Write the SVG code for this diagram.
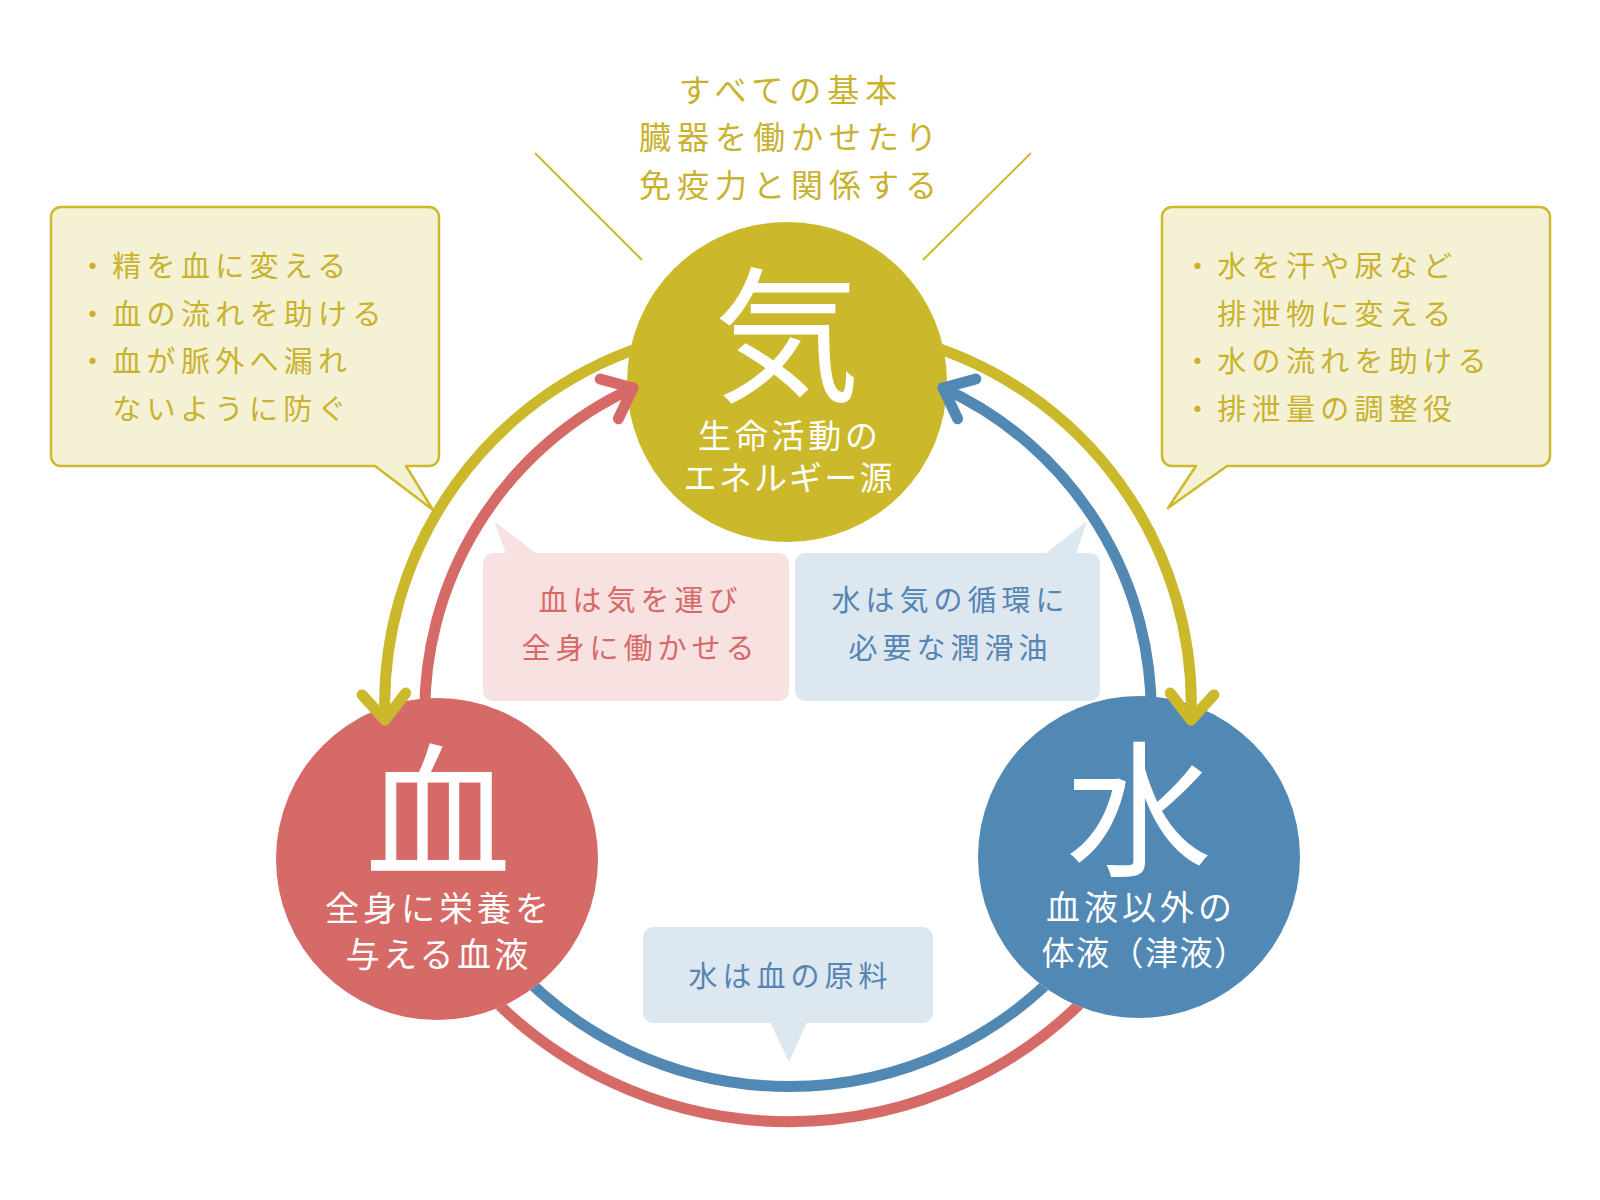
<svg xmlns="http://www.w3.org/2000/svg" width="1600" height="1200" viewBox="0 0 1600 1200">
<style>
  text { font-family: "Noto Sans CJK JP", "Noto Sans", sans-serif; }
  .gold-t { fill: #C8B22E; }
  .white-t { fill: #FFFFFF; }
  .red-t { fill: #D66A67; }
  .blue-t { fill: #5585B3; }
  .box { fill: #F5F1D5; stroke: #CDB92C; stroke-width: 2.5; stroke-linejoin: round; }
  .deco { stroke: #CDB92C; stroke-width: 2; fill: none; }
  .conn { fill: none; stroke-width: 11; stroke-linecap: round; stroke-linejoin: round; }
  .gold { stroke: #CBB92B; }
  .red { stroke: #D66A67; }
  .blue { stroke: #5288B4; }
</style>
<defs>
  <mask id="outsideNodes" maskUnits="userSpaceOnUse" x="0" y="0" width="1600" height="1200">
    <rect x="0" y="0" width="1600" height="1200" fill="#fff"/>
    <circle cx="437" cy="859" r="161" fill="#000"/>
    <circle cx="1139" cy="857" r="161" fill="#000"/>
  </mask>
</defs>
<rect x="0" y="0" width="1600" height="1200" fill="#FFFFFF"/>

<g id="top-note">
  <line class="deco" x1="535" y1="153" x2="642" y2="260"/>
  <line class="deco" x1="1031" y1="153" x2="923" y2="260"/>
  <text class="gold-t" font-size="32" letter-spacing="6" text-anchor="middle" x="791" y="102">すべての基本</text>
  <text class="gold-t" font-size="32" letter-spacing="6" text-anchor="middle" x="791" y="149">臓器を働かせたり</text>
  <text class="gold-t" font-size="32" letter-spacing="6" text-anchor="middle" x="791" y="197">免疫力と関係する</text>
</g>

<g id="note-left">
  <path class="box" d="M61 207 H429 A10 10 0 0 1 439 217 V456 A10 10 0 0 1 429 466 H406 L433 510 L375 466 H61 A10 10 0 0 1 51 456 V217 A10 10 0 0 1 61 207 Z"/>
  <text class="gold-t" font-size="29" letter-spacing="5.3" x="78" y="277">・精を血に変える</text>
  <text class="gold-t" font-size="29" letter-spacing="5.3" x="78" y="324.5">・血の流れを助ける</text>
  <text class="gold-t" font-size="29" letter-spacing="5.3" x="78" y="372">・血が脈外へ漏れ</text>
  <text class="gold-t" font-size="29" letter-spacing="5.3" x="112.3" y="419.5">ないように防ぐ</text>
</g>

<g id="note-right">
  <path class="box" d="M1172 207 H1540 A10 10 0 0 1 1550 217 V456 A10 10 0 0 1 1540 466 H1227 L1168 508 L1196 466 H1172 A10 10 0 0 1 1162 456 V217 A10 10 0 0 1 1172 207 Z"/>
  <text class="gold-t" font-size="29" letter-spacing="5.3" x="1183" y="277">・水を汗や尿など</text>
  <text class="gold-t" font-size="29" letter-spacing="5.3" x="1217.3" y="324.5">排泄物に変える</text>
  <text class="gold-t" font-size="29" letter-spacing="5.3" x="1183" y="372">・水の流れを助ける</text>
  <text class="gold-t" font-size="29" letter-spacing="5.3" x="1183" y="419.5">・排泄量の調整役</text>
</g>

<g id="bubble-blood-qi">
  <rect x="483" y="553" width="306" height="148" rx="10" fill="#F7E1E1"/>
  <polygon points="506,554 494,521 537,554" fill="#F7E1E1"/>
  <text class="red-t" font-size="29" letter-spacing="5" text-anchor="middle" x="640.5" y="611">血は気を運び</text>
  <text class="red-t" font-size="29" letter-spacing="5" text-anchor="middle" x="640.5" y="659">全身に働かせる</text>
</g>

<g id="bubble-water-qi">
  <rect x="795" y="553" width="305" height="148" rx="10" fill="#DDE7F0"/>
  <polygon points="1045,554 1087,521 1076,554" fill="#DDE7F0"/>
  <text class="blue-t" font-size="29" letter-spacing="5" text-anchor="middle" x="950.5" y="611">水は気の循環に</text>
  <text class="blue-t" font-size="29" letter-spacing="5" text-anchor="middle" x="950.5" y="659">必要な潤滑油</text>
</g>

<g id="bubble-water-blood">
  <rect x="643" y="927" width="290" height="96" rx="10" fill="#DDE7F0"/>
  <polygon points="770,1022 789,1062 807,1022" fill="#DDE7F0"/>
  <text class="blue-t" font-size="29" letter-spacing="5" text-anchor="middle" x="790.5" y="987">水は血の原料</text>
</g>

<g id="node-qi">
  <circle cx="787" cy="382" r="160" fill="#CBB92B"/>
  <text class="white-t" font-size="146" text-anchor="middle" x="787" y="390">気</text>
  <text class="white-t" font-size="33" letter-spacing="3.8" text-anchor="middle" x="789.9" y="447.5">生命活動の</text>
  <text class="white-t" font-size="33" letter-spacing="2.2" text-anchor="middle" x="789.1" y="490">エネルギー源</text>
</g>

<g id="node-blood">
  <circle cx="437" cy="859" r="161" fill="#D66A67"/>
  <text class="white-t" font-size="146" text-anchor="middle" x="438" y="866">血</text>
  <text class="white-t" font-size="34" letter-spacing="4" text-anchor="middle" x="439" y="921">全身に栄養を</text>
  <text class="white-t" font-size="34" letter-spacing="3.4" text-anchor="middle" x="438.7" y="967">与える血液</text>
</g>

<g id="node-water">
  <circle cx="1139" cy="857" r="161" fill="#5288B4"/>
  <text class="white-t" font-size="146" text-anchor="middle" x="1139" y="864">水</text>
  <text class="white-t" font-size="34" letter-spacing="4" text-anchor="middle" x="1141" y="919.5">血液以外の</text>
  <text class="white-t" font-size="33" letter-spacing="1.5" text-anchor="middle" x="1145" y="965">体液（津液）</text>
</g>

<g id="connectors">
  <g mask="url(#outsideNodes)">
    <path class="conn blue" d="M510 962 A375 375 0 0 0 1068 962"/>
    <path class="conn red" d="M478 983 A418 418 0 0 0 1100 983"/>
  </g>
  <path class="conn gold" d="M658 342 A377 377 0 0 0 385 720"/>
  <polyline class="conn gold" points="362.1,694.9 385,720 405.7,693.1"/>
  <path class="conn gold" d="M918 342 A377 377 0 0 1 1191 720"/>
  <polyline class="conn gold" points="1213.9,694.9 1191,720 1170.3,693.1"/>
  <path class="conn red" d="M425 726 A357 357 0 0 1 633 388"/>
  <polyline class="conn red" points="600.2,379 633,388 618.4,418.7"/>
  <path class="conn blue" d="M1151 726 A357 357 0 0 0 943 388"/>
  <polyline class="conn blue" points="975.8,379 943,388 957.6,418.7"/>
</g>
</svg>
